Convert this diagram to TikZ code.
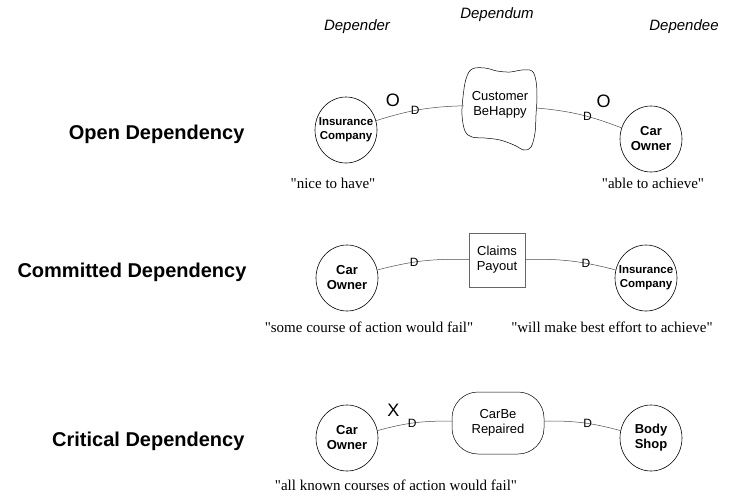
\documentclass[tikz,border=0pt]{standalone}
\usepackage{fontspec}
\setmainfont{Liberation Serif}
\setsansfont{Liberation Sans}
\usetikzlibrary{shapes.geometric}

\tikzset{
	actor/.style={draw, ellipse, line width=0.6pt, minimum width=62, minimum height=66, inner sep=0pt},
	actortext/.style={align=center, inner sep=0pt, font=\sffamily\bfseries\fontsize{13}{15}\selectfont},
	firmtext/.style={align=center, inner sep=0pt, font=\sffamily\bfseries\fontsize{11.5}{14}\selectfont},
	link/.style={draw=black!70, line width=0.5pt},
	dmark/.style={font=\sffamily\fontsize{12}{12}\selectfont, inner sep=0pt},
	strength/.style={font=\sffamily\fontsize{18}{18}\selectfont, inner sep=0pt},
	quote/.style={font=\rmfamily\fontsize{15}{15}\selectfont},
	kind/.style={anchor=east, font=\sffamily\bfseries\fontsize{20}{20}\selectfont},
	role/.style={font=\sffamily\itshape\fontsize{15}{15}\selectfont},
	dependum/.style={align=center, line width=0.5pt, font=\sffamily\fontsize{13}{15}\selectfont}
}
\newcommand{\qt}[1]{\textquotedbl#1\textquotedbl}

\begin{document}
\begin{tikzpicture}[x=1pt, y=-1pt]
	\useasboundingbox (0,0) rectangle (729,499);
	% column heads
	\node[role] (depender) at (357,27) {Depender};
	\node[role] (dependum) at (497,15) {Dependum};
	\node[role] (dependee) at (684,27) {Dependee};

	% open dependency
	\node[kind] (open) at (248,134) {Open Dependency};
	\node[actor, label={[firmtext]center:Insurance\\Company}] (ic1) at (346,130) {};
	\node[dependum, minimum width=72, minimum height=60] (happy) at (500,105) {Customer\\BeHappy};
	\draw[line width=0.5pt, shift={(happy.center)}] plot[smooth cycle, tension=0.6] coordinates {(-28,-36) (-15,-37) (-3,-34) (10,-33) (22,-35) (32,-34) (36,-24) (37,-8) (36,10) (35,28) (31,42) (24,45) (14,40) (0,35) (-15,33) (-28,32) (-35,26) (-38,10) (-37,-8) (-34,-26)};
	\node[actor, label={[actortext]center:Car\\Owner}] (co1) at (651,139) {};
	\path[link] (ic1) to[bend left=8] node[dmark, pos=0.45] (d1) {D} node[strength, pos=0.18, above=9pt] (o1) {O} (happy);
	\path[link] (happy) to[bend left=8] node[dmark, pos=0.6] (d2) {D} node[strength, pos=0.8, above=13pt] (o2) {O} (co1);
	\node[quote] (nice) at (333,183) {\qt{nice to have}};
	\node[quote] (able) at (653,183) {\qt{able to achieve}};

	% committed dependency
	\node[kind] (committed) at (250,272) {Committed Dependency};
	\node[actor, label={[actortext]center:Car\\Owner}] (co2) at (347,278) {};
	\node[dependum, draw=black!60, minimum width=56, minimum height=54] (payout) at (497,260) {Claims\\Payout};
	\node[actor, label={[firmtext]center:Insurance\\Company}] (ic2) at (646,278) {};
	\path[link] (co2) to[bend left=8] node[dmark, pos=0.4] (d3) {D} (payout);
	\path[link] (payout) to[bend left=8] node[dmark, pos=0.68] (d4) {D} (ic2);
	\node[quote] (somecourse) at (369,327) {\qt{some course of action would fail}};
	\node[quote] (besteffort) at (612,327) {\qt{will make best effort to achieve}};

	% critical dependency
	\node[kind] (critical) at (248,441) {Critical Dependency};
	\node[actor, label={[actortext]center:Car\\Owner}] (co3) at (347,438) {};
	\node[dependum, draw, rounded corners=26, minimum width=92, minimum height=62] (repair) at (498,423) {CarBe\\Repaired};
	\node[actor, label={[actortext]center:Body\\Shop}] (shop) at (651,438) {};
	\path[link] (co3) to[bend left=8] node[dmark, pos=0.47] (d5) {D} node[strength, pos=0.2, above=10pt] (x1) {X} (repair);
	\path[link] (repair) to[bend left=8] node[dmark, pos=0.57] (d6) {D} (shop);
	\node[quote] (allknown) at (396,485) {\qt{all known courses of action would fail}};
\end{tikzpicture}
\end{document}
